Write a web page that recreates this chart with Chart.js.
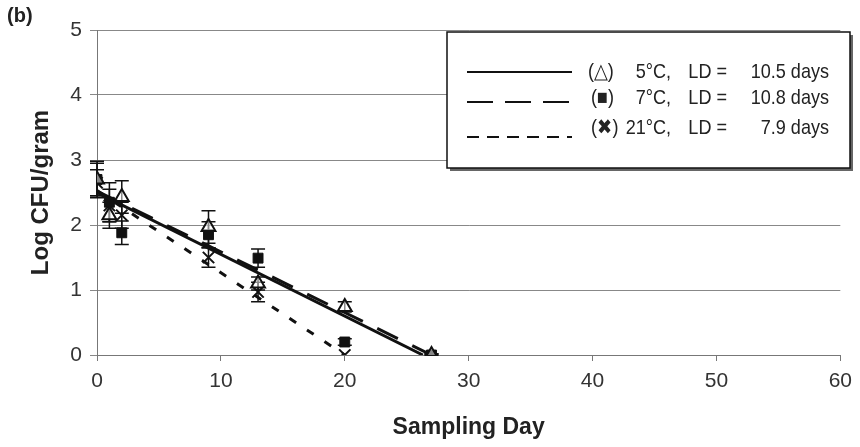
<!DOCTYPE html>
<html>
<head>
<meta charset="utf-8">
<script src="https://cdn.jsdelivr.net/npm/chart.js@4"></script>
<style>
  html, body { margin: 0; padding: 0; background: #fff; }
  #wrap { width: 860px; height: 447px; position: relative; }
</style>
</head>
<body>
<div id="wrap"><canvas id="chart" width="860" height="447"></canvas></div>
<script>
// sampling days and log counts
const days5 = [0, 1, 2, 9, 13, 20, 27];
const log5 = [2.7, 2.15, 2.43, 1.97, 1.1, 0.74, 0];
const err5 = [0.25, 0.2, 0.25, 0.25, 0.1, 0.08, 0.02];

const days7 = [0, 1, 2, 9, 13, 20, 27];
const log7 = [2.7, 2.35, 1.88, 1.85, 1.49, 0.2, 0];
const err7 = [0.28, 0.3, 0.18, 0.2, 0.14, 0.05, 0.02];

const days21 = [0, 1, 2, 9, 13, 20];
const log21 = [2.65, 2.3, 2.15, 1.5, 0.97, 0];
const err21 = [0.2, 0.25, 0.2, 0.15, 0.15, 0];

// fitted regression lines (end points)
const fitDays5 = [0, 26.3];
const fitLog5 = [2.5, 0];
const fitDays7 = [0, 27];
const fitLog7 = [2.52, 0];
const fitDays21 = [0, 20];
const fitLog21 = [2.53, 0];

const xTicks = [0, 10, 20, 30, 40, 50, 60];
const yTicks = [0, 1, 2, 3, 4, 5];

const legendRows = [
  { sym: '(△)', temp: '5°C,', ld: '10.5 days', dash: [] },
  { sym: '(■)', temp: '7°C,', ld: '10.8 days', dash: [26, 12] },
  { sym: '(✖)', temp: '21°C,', ld: '7.9 days', dash: [12, 8] }
];

const SANS = '"Liberation Sans", Arial, sans-serif';

const pts = (xs, ys) => xs.map((x, i) => ({ x, y: ys[i] }));

const errorBars = {
  id: 'errorBars',
  beforeDatasetsDraw(chart) {
    const { ctx, scales: { x, y } } = chart;
    const sets = [[days5, log5, err5], [days7, log7, err7], [days21, log21, err21]];
    ctx.save();
    ctx.strokeStyle = '#111';
    ctx.lineWidth = 1.5;
    sets.forEach(([xs, ys, es]) => {
      xs.forEach((d, i) => {
        if (!es[i]) return;
        const px = x.getPixelForValue(d);
        const top = y.getPixelForValue(ys[i] + es[i]);
        const bot = y.getPixelForValue(Math.max(0, ys[i] - es[i]));
        ctx.beginPath();
        ctx.moveTo(px, top); ctx.lineTo(px, bot);
        ctx.moveTo(px - 7, top); ctx.lineTo(px + 7, top);
        ctx.moveTo(px - 7, bot); ctx.lineTo(px + 7, bot);
        ctx.stroke();
      });
    });
    ctx.restore();
  }
};

// text squeezed horizontally, the scan uses a narrow face
function narrowText(ctx, str, x, y, align) {
  const sx = 0.86;
  ctx.save();
  ctx.translate(x, y);
  ctx.scale(sx, 1);
  ctx.textAlign = align;
  ctx.fillText(str, 0, 0);
  ctx.restore();
}

const boxLegend = {
  id: 'boxLegend',
  afterDraw(chart) {
    const ctx = chart.ctx;
    ctx.save();
    // "(b)" panel label
    ctx.fillStyle = '#222';
    ctx.font = 'bold 20px ' + SANS;
    ctx.textBaseline = 'middle';
    ctx.textAlign = 'left';
    ctx.fillText('(b)', 7, 16);

    // legend box with small shadow
    ctx.fillStyle = '#666';
    ctx.fillRect(450, 35, 403, 136);
    ctx.fillStyle = '#fff';
    ctx.fillRect(447, 32, 403, 136);
    ctx.strokeStyle = '#111';
    ctx.lineWidth = 1.5;
    ctx.strokeRect(447, 32, 403, 136);

    const lineY = [72, 102, 137];
    const textY = [72, 98, 128];
    ctx.font = '21px ' + SANS;
    legendRows.forEach((r, i) => {
      ctx.strokeStyle = '#111';
      ctx.lineWidth = 2;
      ctx.setLineDash(r.dash);
      ctx.beginPath();
      ctx.moveTo(467, lineY[i]); ctx.lineTo(572, lineY[i]);
      ctx.stroke();
      ctx.setLineDash([]);
      ctx.fillStyle = '#222';
      narrowText(ctx, r.sym, i === 0 ? 588 : 591, textY[i], 'left');
      narrowText(ctx, r.temp, 671, textY[i], 'right');
      narrowText(ctx, 'LD =', 727, textY[i], 'right');
      narrowText(ctx, r.ld, 829, textY[i], 'right');
    });
    ctx.restore();
  }
};

const fitLine = (data, dash) => ({
  type: 'line', data, borderColor: '#111', borderWidth: 3, borderDash: dash,
  pointRadius: 0, fill: false, order: 2
});

new Chart(document.getElementById('chart'), {
  type: 'scatter',
  data: {
    datasets: [
      fitLine(pts(fitDays5, fitLog5), []),
      fitLine(pts(fitDays7, fitLog7), [23, 16]),
      fitLine(pts(fitDays21, fitLog21), [8, 13]),
      { label: '5°C', data: pts(days5, log5), pointStyle: 'triangle', pointRadius: 8,
        borderColor: '#111', backgroundColor: 'rgba(255,255,255,0.5)', pointBorderWidth: 2, order: 1 },
      { label: '7°C', data: pts(days7, log7), pointStyle: 'rect', pointRadius: 7,
        borderColor: '#111', backgroundColor: '#111', pointBorderWidth: 1, order: 1 },
      { label: '21°C', data: pts(days21, log21), pointStyle: 'crossRot', pointRadius: 8,
        borderColor: '#111', backgroundColor: '#111', pointBorderWidth: 2, order: 1 }
    ]
  },
  options: {
    responsive: false,
    animation: false,
    layout: { padding: { left: 0, right: 8, top: 30, bottom: 0 } },
    plugins: { legend: { display: false }, tooltip: { enabled: false } },
    scales: {
      x: {
        type: 'linear', min: 0, max: 60,
        afterBuildTicks: s => { s.ticks = xTicks.map(v => ({ value: v })); },
        afterFit: s => { s.height = 92; },
        grid: { drawOnChartArea: false, color: '#777', tickLength: 6 },
        border: { color: '#777' },
        ticks: { color: '#333', padding: 8, font: { family: SANS, size: 21 } },
        title: { display: true, text: 'Sampling Day', color: '#222', padding: { top: 2, bottom: 6 },
          font: { family: SANS, size: 23, weight: 'bold' } }
      },
      y: {
        min: 0, max: 5,
        afterBuildTicks: s => { s.ticks = yTicks.map(v => ({ value: v })); },
        afterFit: s => { s.width = 97; },
        grid: { color: '#888', tickLength: 7 },
        border: { color: '#777' },
        ticks: { color: '#333', padding: 8, font: { family: SANS, size: 21 } },
        title: { display: true, text: 'Log CFU/gram', color: '#222', padding: { top: 27, bottom: 0 },
          font: { family: SANS, size: 24, weight: 'bold' } }
      }
    }
  },
  plugins: [errorBars, boxLegend]
});
</script>
</body>
</html>
